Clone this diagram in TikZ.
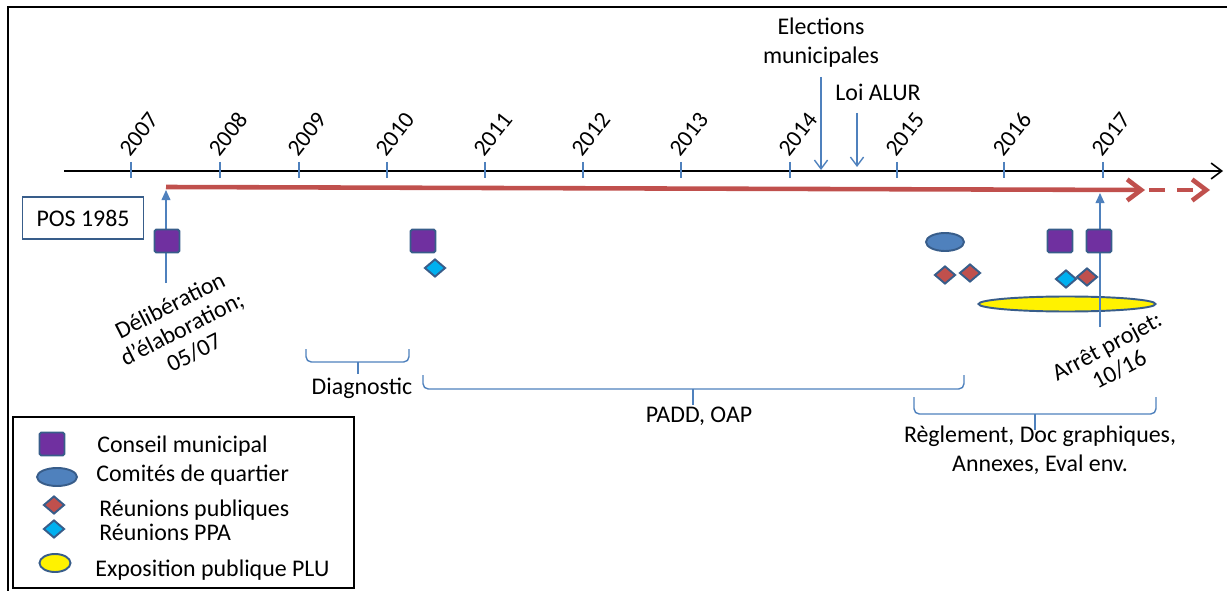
\documentclass[tikz,border=0pt]{standalone}
\usepackage{fontspec}
\setmainfont{Carlito}
\usepackage{xcolor}
\usetikzlibrary{arrows.meta, shapes.geometric}

\definecolor{plured}{RGB}{192,80,77}
\definecolor{plublue}{RGB}{79,129,189}
\definecolor{pluedge}{RGB}{56,93,138}
\definecolor{plupurple}{RGB}{112,48,160}
\definecolor{plucyan}{RGB}{0,176,240}

\begin{document}
\begin{tikzpicture}[
  x=0.02cm, y=-0.02cm,
  txt/.style={font=\fontsize{13.6}{16.5}\selectfont, inner sep=0pt, align=center},
  slanted/.style={txt, font=\fontsize{13.6}{15}\selectfont, rotate=#1},
  year/.style={txt, font=\fontsize{13.3}{16}\selectfont, rotate=52, anchor=west},
  tick/.style={draw=plublue, line width=0.9pt},
  council/.style={draw=pluedge, fill=plupurple, line width=1.1pt, rounded corners=1pt,
                  minimum width=0.5cm, minimum height=0.46cm, inner sep=0pt},
  comite/.style={ellipse, draw=pluedge, fill=plublue, line width=1.1pt,
                 minimum width=0.76cm, minimum height=0.36cm, inner sep=0pt},
  meeting/.style={diamond, draw=pluedge, fill=plured, line width=1.1pt,
                  minimum width=0.42cm, minimum height=0.36cm, inner sep=0pt},
  ppa/.style={meeting, fill=plucyan},
  expo/.style={ellipse, draw=pluedge, fill=yellow, line width=1.1pt, inner sep=0pt},
  period/.style={draw=plublue, line width=0.8pt, rounded corners=3pt},
  plan/.style={draw=plured, line width=2.6pt, -{Straight Barb[length=8pt, width=12pt]}},
  event/.style={draw=plublue, line width=0.8pt, -{Straight Barb[length=5pt, width=7.5pt]}},
  pin/.style={draw=plublue, line width=0.8pt, -{Triangle[length=5.7pt, width=5pt]}}
]
\useasboundingbox (0,0) rectangle (1227,591);
\draw[line width=1.2pt] (8,591) -- (8,7) -- (1227,7);

% time axis
\coordinate (axisstart) at (64,171);
\coordinate (axisend) at (1223,171);
\draw[line width=0.9pt, -{Straight Barb[length=6pt, width=9pt]}] (axisstart) -- (axisend);
\foreach \yr/\px in {2007/131, 2008/220, 2009/299, 2010/387, 2011/485, 2012/583,
                     2013/681, 2014/790, 2015/897, 2016/1004, 2017/1103} {
  \draw[tick] (\px,162) -- (\px,178);
  \node[year] (y\yr) at (\px-7,153) {\yr};
}

% events above the axis
\node[txt] (elec) at (821,43) {Elections\\municipales};
\node[txt] (alur) at (878,92) {Loi ALUR};
\coordinate (elecfrom) at (821,77);
\coordinate (elecat) at (821,170);
\coordinate (alurfrom) at (857,113);
\coordinate (alurat) at (857,167);
\draw[event] (elecfrom) -- (elecat);
\draw[event] (alurfrom) -- (alurat);

% PLU procedure
\coordinate (planstart) at (166,187);
\coordinate (planend) at (1145,190);
\coordinate (plannext) at (1149,190);
\coordinate (planlater) at (1210,190);
\draw[plan] (planstart) -- (planend);
\draw[plan, dash pattern=on 9pt off 7pt] (plannext) -- (planlater);
\node[txt, draw=pluedge, line width=0.7pt, minimum width=2.42cm, minimum height=0.84cm] (pos) at (83,218) {POS 1985};

% start and stop of the procedure
\coordinate (delibfoot) at (166,283);
\coordinate (delibhead) at (166,190);
\draw[pin] (delibfoot) -- (delibhead);
\node[slanted=27] (delib) at (182,329) {Délibération\\d’élaboration;\\05/07};
\node[expo, minimum width=3.54cm, minimum height=0.3cm] (expo16) at (1067,304) {};
\coordinate (arretfoot) at (1100,327);
\coordinate (arrethead) at (1100,193);
\draw[pin] (arretfoot) -- (arrethead);
\node[slanted=28] (arret) at (1113,358) {Arrêt projet:\\10/16};

% meetings
\node[council] (cm07) at (167,241) {};
\node[council] (cm10) at (423,241) {};
\node[ppa] (ppa10) at (435,268) {};
\node[comite] (cq15) at (945,242) {};
\node[meeting] (rp15a) at (945,275) {};
\node[meeting] (rp15b) at (970,273) {};
\node[council] (cm16a) at (1060,241) {};
\node[council] (cm16b) at (1099,241) {};
\node[ppa] (ppa16) at (1066,279) {};
\node[meeting] (rp16) at (1087,277) {};

% study phases
\draw[period] (306,349) -- (306,362) -- (409,362) -- (409,349);
\draw[period] (358,362) -- (358,374);
\node[txt] (diag) at (362,388) {Diagnostic};
\draw[period] (423,375) -- (423,389) -- (964,389) -- (964,375);
\draw[period] (693,389) -- (693,405);
\node[txt] (padd) at (699,416) {PADD, OAP};
\draw[period] (914,397) -- (914,414) -- (1156,414) -- (1156,397);
\draw[period] (1035,414) -- (1035,430);
\node[txt] (regl) at (1040,450) {Règlement, Doc graphiques,\\Annexes, Eval env.};

% legend
\draw[line width=0.8pt] (13,417) rectangle (354,588);
\node[council] (keycm) at (52,444) {};
\node[comite, minimum width=0.8cm] (keycq) at (57,477) {};
\node[meeting] (keyrp) at (54,505) {};
\node[ppa] (keyppa) at (54,529) {};
\node[expo, minimum width=0.62cm, minimum height=0.36cm] (keyexpo) at (55,563) {};
\node[txt, anchor=base west] at (97,452) {Conseil municipal};
\node[txt, anchor=base west] at (96,481) {Comités de quartier};
\node[txt, anchor=base west] at (99,516) {Réunions publiques};
\node[txt, anchor=base west] at (99,540) {Réunions PPA};
\node[txt, anchor=base west] at (95,576) {Exposition publique PLU};
\end{tikzpicture}
\end{document}
